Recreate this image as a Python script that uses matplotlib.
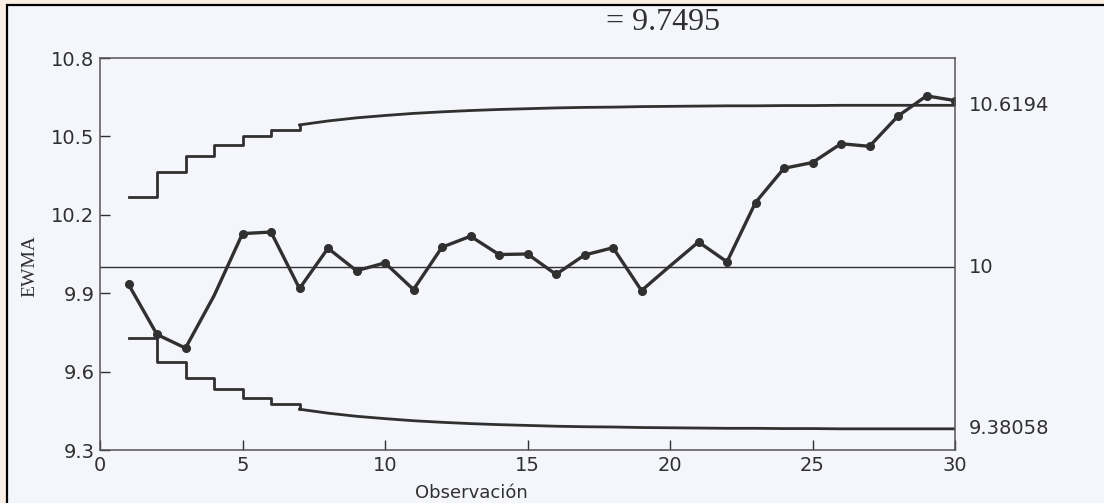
import matplotlib
matplotlib.use('Agg')
import matplotlib.pyplot as plt
from matplotlib.patches import Rectangle

obs = list(range(1, 31))
ewma = [9.934, 9.742, 9.690, 9.890, 10.128, 10.134, 9.918, 10.072, 9.986, 10.016,
        9.914, 10.076, 10.118, 10.048, 10.050, 9.972, 10.046, 10.074, 9.910, 10.004,
        10.096, 10.020, 10.247, 10.378, 10.400, 10.472, 10.462, 10.578, 10.655, 10.637]
ucl = [10.270, 10.362, 10.424, 10.468, 10.500, 10.525, 10.544, 10.559, 10.571, 10.580,
       10.588, 10.594, 10.599, 10.603, 10.606, 10.609, 10.611, 10.612, 10.614, 10.615,
       10.616, 10.617, 10.617, 10.618, 10.618, 10.619, 10.619, 10.619, 10.619, 10.619]
lcl = [9.730, 9.638, 9.576, 9.532, 9.500, 9.475, 9.456, 9.441, 9.429, 9.420,
       9.412, 9.406, 9.401, 9.397, 9.394, 9.391, 9.389, 9.388, 9.386, 9.385,
       9.384, 9.383, 9.383, 9.382, 9.382, 9.381, 9.381, 9.381, 9.381, 9.381]
center = 10.0
no_marker = [4, 20]          # points drawn without a dot in the original
n_steps = 7                  # limits drawn as steps up to here, smooth after

xticks = [0, 5, 10, 15, 20, 25, 30]
yticks = [9.3, 9.6, 9.9, 10.2, 10.5, 10.8]
right_labels = [(10.6194, '10.6194'), (10.0, '10'), (9.38058, '9.38058')]

BG = '#f4f6fc'
INK = '#303030'

fig = plt.figure(figsize=(11.04, 5.03), dpi=100)
fig.patch.set_facecolor('#fbeee4')
fig.patches.append(Rectangle((7 / 1104, -0.01), 1.0, 1 - 5 / 503 + 0.01,
                             transform=fig.transFigure, facecolor=BG,
                             edgecolor='black', lw=1.6, zorder=-10))

ax = fig.add_axes([100 / 1104, 1 - 450 / 503, 855 / 1104, 392 / 503])
ax.set_facecolor(BG)

ax.axhline(center, color=INK, lw=1.0)
for lim in (ucl, lcl):
    ax.plot(obs[:n_steps], lim[:n_steps], drawstyle='steps-post', color=INK, lw=2.0)
    ax.plot(obs[n_steps - 1:], lim[n_steps - 1:], color=INK, lw=2.0)
marks = [i for i, o in enumerate(obs) if o not in no_marker]
ax.plot(obs, ewma, color=INK, lw=2.4, marker='o', ms=5.5, markevery=marks)

ax.set_xlim(0, 30)
ax.set_ylim(9.3, 10.8)
ax.set_xticks(xticks)
ax.set_yticks(yticks)
ax.set_yticklabels([f'{v:g}' for v in yticks])
ax.tick_params(direction='in', length=7, width=1, labelsize=14, colors=INK, pad=4)
for s in ax.spines.values():
    s.set_color('#555555'); s.set_linewidth(1.1)

for y, txt in right_labels:
    ax.text(30.5, y, txt, fontsize=14, color=INK, va='center', ha='left')

ax.set_ylabel('EWMA', family='Liberation Serif', fontsize=14, color=INK)
ax.yaxis.set_label_coords(-0.072, 0.47)
ax.set_xlabel('Observación', fontsize=13, color=INK)
ax.xaxis.set_label_coords(0.434, -0.088)

fig.text(663 / 1104, 1 - 22 / 503, '= 9.7495', family='Liberation Serif',
         fontsize=23, color=INK, ha='center', va='center')

fig.savefig('out.png', dpi=100, facecolor=fig.get_facecolor())
